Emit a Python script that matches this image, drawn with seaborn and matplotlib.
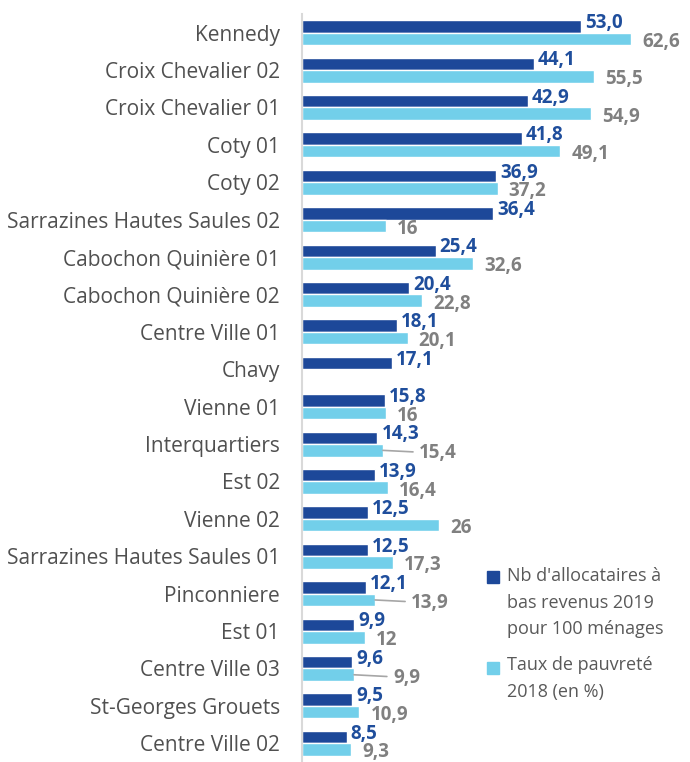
import numpy as np
import pandas as pd
import seaborn as sns
import matplotlib.pyplot as plt
from matplotlib.patches import Rectangle

categories = ["Kennedy", "Croix Chevalier 02", "Croix Chevalier 01", "Coty 01", "Coty 02",
              "Sarrazines Hautes Saules 02", "Cabochon Quinière 01", "Cabochon Quinière 02",
              "Centre Ville 01", "Chavy", "Vienne 01", "Interquartiers", "Est 02", "Vienne 02",
              "Sarrazines Hautes Saules 01", "Pinconniere", "Est 01", "Centre Ville 03",
              "St-Georges Grouets", "Centre Ville 02"]
allocataires = [53.0, 44.1, 42.9, 41.8, 36.9, 36.4, 25.4, 20.4, 18.1, 17.1,
                15.8, 14.3, 13.9, 12.5, 12.5, 12.1, 9.9, 9.6, 9.5, 8.5]
pauvrete = [62.6, 55.5, 54.9, 49.1, 37.2, 16, 32.6, 22.8, 20.1, np.nan,
            16, 15.4, 16.4, 26, 17.3, 13.9, 12, 9.9, 10.9, 9.3]
series = ["Nb d'allocataires à\nbas revenus 2019\npour 100 ménages",
          "Taux de pauvreté\n2018 (en %)"]

DARK = "#1D4899"
LIGHT = "#72CFEA"
DARK_TXT = "#1F4E9C"
GRAY_TXT = "#808080"
CAT_TXT = "#505050"
LEG_TXT = "#595959"

sns.set_theme(style="white")
plt.rcParams['font.family'] = ['Open Sans', 'DejaVu Sans']

df = pd.DataFrame({
    "Quartier": categories * 2,
    "Série": [series[0]] * len(categories) + [series[1]] * len(categories),
    "Valeur": allocataires + pauvrete,
})

W, H = 690, 762
fig = plt.figure(figsize=(W / 100, H / 100), dpi=100)
ax = fig.add_axes([302 / W, 0, 368 / W, 748 / H])

sns.barplot(data=df, y="Quartier", x="Valeur", hue="Série", hue_order=series,
            order=categories, palette=[DARK, LIGHT], width=0.67, gap=0,
            orient="h", ax=ax, legend=False, errorbar=None, saturation=1)

ax.set_xlim(0, 70)
ax.set_ylim(len(categories) - 0.5, -0.5)
ax.set_xlabel("")
ax.set_ylabel("")
ax.set_xticks([])
ax.tick_params(axis="y", length=0, pad=16, labelsize=15, labelcolor=CAT_TXT)
for s in ["top", "right", "bottom"]:
    ax.spines[s].set_visible(False)
ax.spines["left"].set_color("#D9D9D9")
ax.spines["left"].set_linewidth(1.5)


def fmt_dark(v):
    return f"{v:.1f}".replace(".", ",")


def fmt_light(v):
    return f"{v:g}".replace(".", ",")


# labels moved away with a leader line
leader = {"Interquartiers": 26, "Pinconniere": 26, "Centre Ville 03": 28}

for bar in ax.containers[0]:
    v = bar.get_width()
    yc = bar.get_y() + bar.get_height() / 2
    ax.annotate(fmt_dark(v), (v, yc), xytext=(3, 2.5), textcoords="offset points",
                ha="left", va="center", color=DARK_TXT, fontweight="bold", fontsize=13.5)

for bar in ax.containers[1]:
    v = bar.get_width()
    if np.isnan(v) or v == 0:
        continue
    yc = bar.get_y() + bar.get_height() / 2
    cat = categories[int(round(yc))]
    if cat in leader:
        ax.annotate(fmt_light(v), (v, yc), xytext=(leader[cat], -2), textcoords="offset points",
                    ha="left", va="center", color=GRAY_TXT, fontweight="bold", fontsize=13.5,
                    arrowprops=dict(arrowstyle="-", color="#A6A6A6", lw=1.2,
                                    shrinkA=2, shrinkB=0))
    else:
        ax.annotate(fmt_light(v), (v, yc), xytext=(8, -2), textcoords="offset points",
                    ha="left", va="center", color=GRAY_TXT, fontweight="bold", fontsize=13.5)

# legend (manual, to match layout)
fig.add_artist(Rectangle((487 / W, 1 - 583 / H), 12 / W, 12 / H,
                         transform=fig.transFigure, color=DARK))
fig.text(507 / W, 1 - 567 / H, series[0], va="top", ha="left", fontsize=13,
         color=LEG_TXT, linespacing=1.62)
fig.add_artist(Rectangle((487 / W, 1 - 674 / H), 12 / W, 12 / H,
                         transform=fig.transFigure, color=LIGHT))
fig.text(507 / W, 1 - 656 / H, series[1], va="top", ha="left", fontsize=13,
         color=LEG_TXT, linespacing=1.62)

fig.savefig("out.png", dpi=100)
